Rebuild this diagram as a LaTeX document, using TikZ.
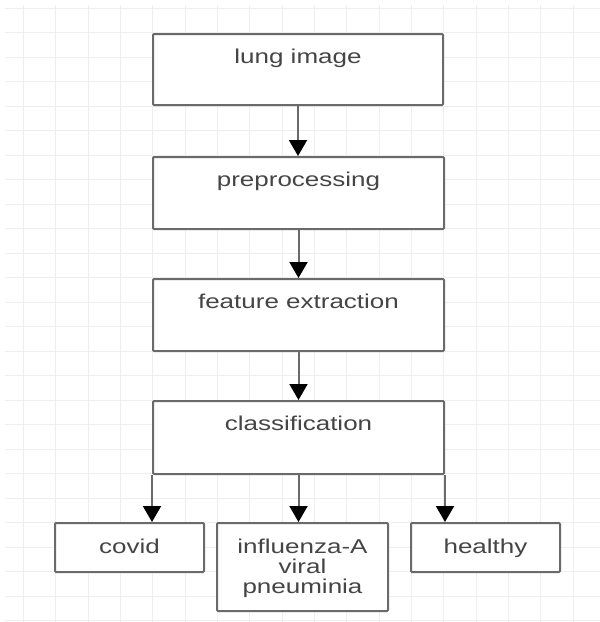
\documentclass[tikz,border=0pt]{standalone}
\usepackage{fontspec}
\setmainfont[FakeStretch=1.30]{Liberation Sans}
\usetikzlibrary{arrows.meta}
\definecolor{gridline}{HTML}{EDEFEF}
\definecolor{edge}{HTML}{6A6A6A}
\definecolor{ink}{HTML}{454545}
\tikzset{
  stagebox/.style={draw=edge, line width=2pt, fill=white, rounded corners=1pt,
    inner sep=0pt, anchor=north west},
  caption/.style={text=ink, font=\fontsize{20}{20}\selectfont, anchor=base,
    inner sep=0pt, align=center},
  flow/.style={draw=edge, line width=2pt,
    -{Triangle[width=18pt,length=16pt,color=black]}},
}
\begin{document}
\begin{tikzpicture}[x=1pt,y=-1pt]
  \useasboundingbox (0,0) rectangle (600,622);
  % background grid
  \foreach \gx in {0,...,17} {
    \draw[gridline, line width=1pt] ({23.3+32.35*\gx},5) -- ({23.3+32.35*\gx},622);
  }
  \foreach \gy in {0,...,25} {
    \draw[gridline, line width=1pt] (5,{8.3+24.49*\gy}) -- (600,{8.3+24.49*\gy});
  }

  % pipeline stages
  \node[stagebox, minimum width=290pt, minimum height=71pt] (lung) at (152,33) {};
  \node[stagebox, minimum width=291pt, minimum height=72pt] (pre)  at (152,156) {};
  \node[stagebox, minimum width=291pt, minimum height=72pt] (feat) at (152,278) {};
  \node[stagebox, minimum width=291pt, minimum height=73pt] (cls)  at (152,400) {};

  \node[caption] (tlung) at ([yshift=-30pt]lung.north) {lung image};
  \node[caption] (tpre)  at ([yshift=-30pt]pre.north)  {preprocessing};
  \node[caption] (tfeat) at ([yshift=-30pt]feat.north) {feature extraction};
  \node[caption] (tcls)  at ([yshift=-30pt]cls.north)  {classification};

  % output classes
  \node[stagebox, minimum width=149pt, minimum height=49pt] (covid)   at (54,522) {};
  \node[stagebox, minimum width=171pt, minimum height=88pt] (flu)     at (216,522) {};
  \node[stagebox, minimum width=149pt, minimum height=49pt] (healthy) at (410,522) {};

  \node[caption] (tcovid) at ([yshift=-6pt]covid.center) {covid};
  \node[caption] (tflu)   at ([yshift=-26pt]flu.center) {influenza-A\\viral\\pneuminia};
  \node[caption] (thealthy) at ([yshift=-6pt]healthy.center) {healthy};

  % connectors
  \draw[flow] (lung.south) -- (lung.south |- pre.north);
  \draw[flow] (pre.south) -- (pre.south |- feat.north);
  \draw[flow] (feat.south) -- (feat.south |- cls.north);
  \draw[flow] (cls.south west) -- (cls.south west |- covid.north);
  \draw[flow] (cls.south) -- (cls.south |- flu.north);
  \draw[flow] (cls.south east) -- (cls.south east |- healthy.north);
\end{tikzpicture}
\end{document}
